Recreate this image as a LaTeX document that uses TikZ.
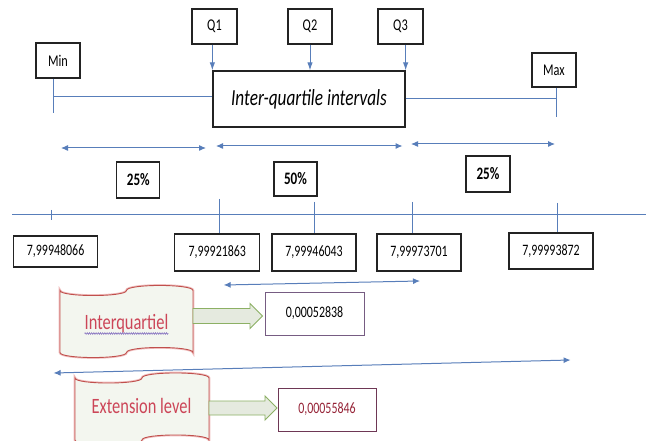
\documentclass[tikz,border=0pt]{standalone}
\usepackage{fontspec}
\setmainfont{Carlito}[FakeStretch=0.75]
\usetikzlibrary{arrows.meta,decorations.pathmorphing}

\definecolor{linkblue}{RGB}{88,126,186}
\definecolor{boxedge}{RGB}{35,35,35}
\definecolor{tapeedge}{RGB}{192,80,77}
\definecolor{tapeglow}{RGB}{240,190,190}
\definecolor{tapefill}{RGB}{243,246,239}
\definecolor{tapetext}{RGB}{204,70,88}
\definecolor{spellline}{RGB}{130,110,190}
\definecolor{shaftfill}{RGB}{229,234,223}
\definecolor{shaftedge}{RGB}{140,176,100}
\definecolor{resedge}{RGB}{118,92,130}
\definecolor{resedgedark}{RGB}{110,55,85}
\definecolor{restext}{RGB}{150,35,55}

\begin{document}
\begin{tikzpicture}[x=1pt,y=-1pt,
  box/.style={draw=boxedge,line width=1.1pt,fill=white,inner sep=0pt,
    font=\fontsize{16.4}{18}\selectfont},
  pct/.style={box,font=\fontsize{17.5}{19}\selectfont\bfseries},
  valbox/.style={box,minimum width=84pt,minimum height=37pt,
    font=\fontsize{15.9}{17}\selectfont},
  conn/.style={draw=linkblue,line width=1pt},
  onetip/.style={conn,-{Latex[length=8pt,width=5.5pt]}},
  twotip/.style={conn,{Latex[length=7pt,width=6pt]}-{Latex[length=7pt,width=6pt]}},
  tape/.style={draw=tapeedge,line width=0.9pt,fill=tapefill,
    preaction={draw=tapeglow,line width=2.6pt}},
  tapelabel/.style={inner sep=0pt,anchor=base,text=tapetext,
    font=\fontsize{21.9}{24}\selectfont},
  shaft/.style={draw=shaftedge,line width=0.9pt,fill=shaftfill},
  resbox/.style={draw=resedge,line width=1pt,fill=white,inner sep=0pt,
    minimum width=99pt,minimum height=43pt,font=\fontsize{15.9}{17}\selectfont}
]
\useasboundingbox (0,0) rectangle (646,441);
\fill[white] (0,0) rectangle (646,441);

% --- top row: extremes, quartiles and the inter-quartile box
\node[box,minimum width=44pt,minimum height=35pt] (Min) at (58,60.5) {Min};
\node[box,minimum width=45pt,minimum height=35pt] (Q1) at (214.5,26.5) {Q1};
\node[box,minimum width=44pt,minimum height=35pt] (Q2) at (310,26.5) {Q2};
\node[box,minimum width=45pt,minimum height=35pt] (Q3) at (400.5,26.5) {Q3};
\node[box,minimum width=44pt,minimum height=34pt] (Max) at (554,70) {Max};
\node[box,line width=1.3pt,minimum width=192pt,minimum height=56pt,
  font=\fontsize{23}{26}\selectfont\itshape] (iq) at (309,99) {Inter-quartile intervals};

\draw[onetip] (Q1.south -| iq.north west) -- (iq.north west);
\draw[onetip] (Q2.south) -- (Q2.south |- iq.north);
\draw[onetip] (Q3.south -| iq.north east) -- (iq.north east);

\coordinate (minfoot) at (53.5,113);
\coordinate (maxfoot) at (556,117);
\draw[conn] (Min.south -| minfoot) -- (minfoot);
\draw[conn] (minfoot |- 0,97) -- (iq.west |- 0,97);
\draw[conn] (Max.south -| maxfoot) -- (maxfoot);
\draw[conn] (iq.east) -- (maxfoot |- iq.east);

% --- spans covered by each part of the distribution
\coordinate (s1a) at (61,148);   \coordinate (s1b) at (206,148);
\coordinate (s2a) at (216,146);  \coordinate (s2b) at (402.5,146);
\coordinate (s3a) at (411,144);  \coordinate (s3b) at (555,144);
\draw[twotip] (s1a) -- (s1b);
\draw[twotip] (s2a) -- (s2b);
\draw[twotip] (s3a) -- (s3b);

\node[pct,minimum width=43pt,minimum height=36pt] (pa) at (138.3,180) {25\%};
\node[pct,minimum width=43pt,minimum height=34pt] (pb) at (295.5,179) {50\%};
\node[pct,minimum width=44pt,minimum height=36pt] (pc) at (488,174) {25\%};

% --- value axis with its ticks and values
\coordinate (axl) at (12.4,215);
\coordinate (axr) at (646,215);
\draw[conn] (axl) -- (axr);

\node[valbox,minimum height=31pt] (v1) at (55.6,251.5) {7,99948066};
\node[valbox,minimum width=85pt] (v2) at (217.3,252.5) {7,99921863};
\node[valbox] (v3) at (314,252.5) {7,99946043};
\node[valbox] (v4) at (419,252.5) {7,99973701};
\node[valbox,minimum height=36pt] (v5) at (551,251) {7,99993872};

\coordinate (t1a) at (51.5,210);  \coordinate (t1b) at (51.5,220);
\coordinate (t2) at (219,199);
\coordinate (t3) at (314,202);
\coordinate (t4) at (412.6,202);
\coordinate (t5) at (557,203);
\draw[conn] (t1a) -- (t1b);
\draw[conn] (t2) -- (t2 |- v2.north);
\draw[conn] (t3) -- (t3 |- v3.north);
\draw[conn] (t4) -- (t4 |- v4.north);
\draw[conn] (t5) -- (t5 |- v5.north);

% --- inter-quartile range
\coordinate (r1a) at (223.7,285); \coordinate (r1b) at (420,281);
\draw[twotip] (r1a) -- (r1b);

\path[tape] (60,290.5) .. controls (60,297.2) and (126.5,297.2) .. (126.5,290.5)
  .. controls (126.5,283.8) and (193,283.8) .. (193,290.5) -- (193,352.5)
  .. controls (193,345.8) and (126.5,345.8) .. (126.5,352.5)
  .. controls (126.5,359.2) and (60,359.2) .. (60,352.5) -- cycle;
\node[tapelabel] (lab1) at (126.5,329) {Interquartiel};
\draw[spellline,line width=0.6pt,decorate,
  decoration={zigzag,segment length=2.2pt,amplitude=0.8pt}]
  ([yshift=-4.5pt]lab1.base west) -- ([yshift=-4.5pt]lab1.base east);

\path[shaft] (193,308.5) -- (250,308.5) -- (250,303.5) -- (262.5,316)
  -- (250,328.5) -- (250,323.5) -- (193,323.5) -- cycle;

\node[resbox] (res1) at (314.5,313.5) {\raisebox{3pt}{0,00052838}};

% --- full range
\coordinate (r2a) at (53.6,373); \coordinate (r2b) at (570.6,360);
\draw[twotip] (r2a) -- (r2b);

\path[tape] (75,378) .. controls (75,384.7) and (142,384.7) .. (142,378)
  .. controls (142,371.3) and (209,371.3) .. (209,378) -- (209,440)
  .. controls (209,433.3) and (142,433.3) .. (142,440)
  .. controls (142,446.7) and (75,446.7) .. (75,440) -- cycle;
\node[tapelabel] (lab2) at (141.5,413) {Extension level};

\path[shaft] (209,401) -- (265,401) -- (265,396) -- (277,408)
  -- (265,420) -- (265,415) -- (209,415) -- cycle;

\node[resbox,draw=resedgedark,minimum width=98pt,text=restext] (res2) at (327,409.5) {0,00055846};
\end{tikzpicture}
\end{document}
